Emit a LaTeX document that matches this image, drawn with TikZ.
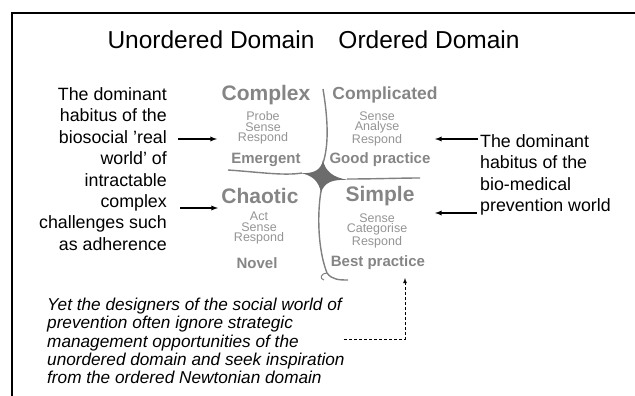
\documentclass[tikz,border=0pt]{standalone}
\usepackage{fontspec}
\setmainfont{Liberation Sans}
\usepackage{tikz}
\pgfkeys{/pixels/.code=\tikzset{x=1pt,y=-1pt}}
\definecolor{quad}{gray}{0.52}
\definecolor{verbgray}{gray}{0.58}
\definecolor{curve}{gray}{0.5}

\begin{document}
\begin{tikzpicture}[/pixels,
  head/.style={inner sep=0,font=\fontsize{24.5}{28}\selectfont},
  side/.style={inner sep=0,font=\fontsize{17.8}{21.4}\selectfont},
  big/.style={inner sep=0,text=quad,font=\bfseries\fontsize{21}{24}\selectfont},
  mid/.style={inner sep=0,text=quad,font=\bfseries\fontsize{15}{18}\selectfont},
  verbs/.style={inner sep=0,text=verbgray,align=center,font=\fontsize{12.5}{10.4}\selectfont},
  pointer/.style={-latex,line width=1.3pt},
  cyn/.style={curve,line width=1.4pt}]
\useasboundingbox (0,0) rectangle (635,396);
\draw[line width=2pt] (12,396) -- (12,13) -- (635,13);

% titles
\node[head] (unord) at (211,40) {Unordered Domain};
\node[head] (ord) at (429,40) {Ordered Domain};

% the four domains
\node[big] (complex) at (266,95) {Complex};
\node[big,font=\bfseries\fontsize{17.5}{20}\selectfont] (complicated) at (385,95) {Complicated};
\node[verbs] (probe) at (263,128) {Probe\\Sense\\Respond};
\node[verbs] (analyse) at (377,129) {Sense\\Analyse\\Respond};
\node[mid] (emergent) at (266,160) {Emergent};
\node[mid] (good) at (380,160) {Good practice};
\node[big] (chaotic) at (260,196) {Chaotic};
\node[big] (simple) at (380,196) {Simple};
\node[verbs] (act) at (259,228) {Act\\Sense\\Respond};
\node[verbs] (categorise) at (377,231) {Sense\\Categorise\\Respond};
\node[mid] (novel) at (257,263) {Novel};
\node[mid] (best) at (378,263) {Best practice};

% the boundaries and the centre
\fill[curve!85!black] (300,173) .. controls (314,174) and (321,170) .. (323,160)
 .. controls (325,171) and (333,178) .. (349,180)
 .. controls (333,179) and (324,182) .. (321,193)
 .. controls (319,181) and (312,175) .. cycle;
\draw[cyn] (323,89) .. controls (329,125) and (328,148) .. (323,163);
\draw[cyn] (228,170) .. controls (258,172) and (284,176) .. (302,173);
\draw[cyn] (347,179) .. controls (375,179) and (400,178) .. (420,178);
\draw[cyn] (321,191) .. controls (317,215) and (318,250) .. (327,273)
 .. controls (332,280) and (340,280) .. (348,280);
\draw[curve,line width=1pt] (327,273) .. controls (321,273) and (319,279) .. (324,280);

% the side notes
\node[side,align=right,anchor=east] (biosocial) at (167,169)
 {The dominant\\habitus of the\\biosocial 'real\\world' of\\intractable\\complex\\challenges such\\as adherence};
\node[side,align=left,anchor=west] (biomedical) at (480,175)
 {The dominant\\habitus of the\\bio-medical\\prevention world};
\node[side,align=left,anchor=west,font=\itshape\fontsize{17.2}{18.2}\selectfont] (designers) at (47,341)
 {Yet the designers of the social world of\\prevention often ignore strategic\\management opportunities of the\\unordered domain and seek inspiration\\from the ordered Newtonian domain};

\coordinate (la) at (178,139); \coordinate (lb) at (180,208);
\coordinate (ra) at (478,139); \coordinate (rb) at (477,213);
\coordinate (da) at (344,339); \coordinate (db) at (405,278);
\draw[pointer] (la) -- ++(39,0);
\draw[pointer] (lb) -- ++(38,0);
\draw[pointer] (ra) -- ++(-43,0);
\draw[pointer] (rb) -- ++(-42,0);
\draw[densely dashed,-latex,line width=0.8pt] (da) -| (db);
\end{tikzpicture}
\end{document}
